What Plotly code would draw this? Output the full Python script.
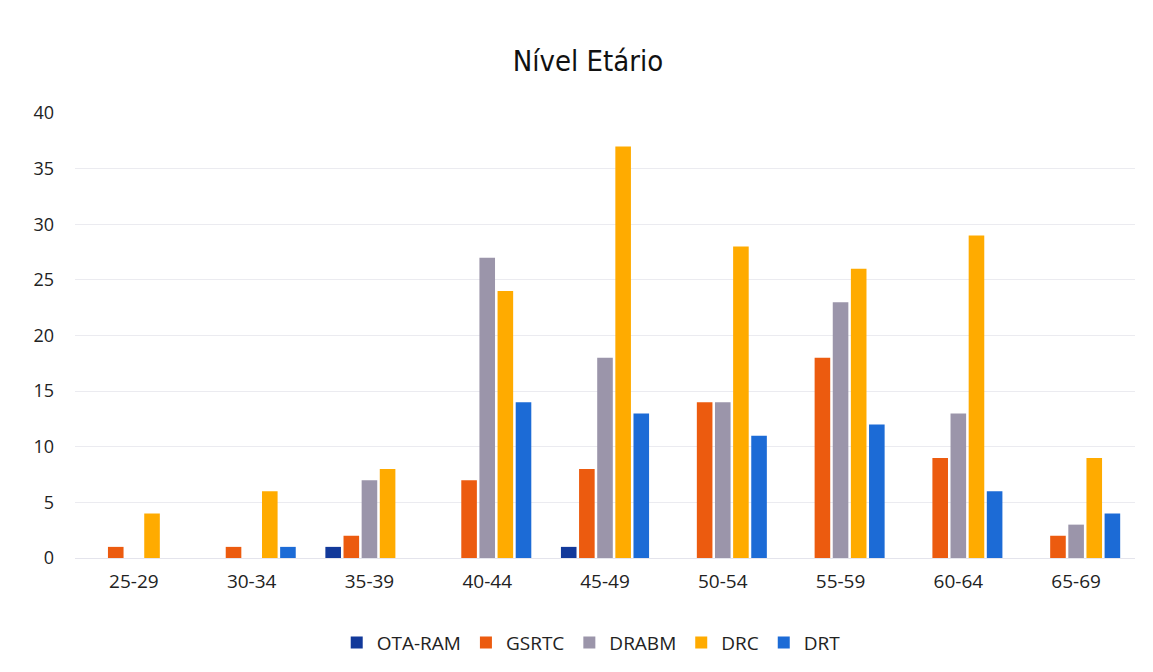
import plotly.graph_objects as go

# Age bands (Nível Etário) and counts per service
age_bands = ["25-29", "30-34", "35-39", "40-44", "45-49", "50-54", "55-59", "60-64", "65-69"]
ota_ram = [0, 0, 1, 0, 1, 0, 0, 0, 0]
gsrtc = [1, 1, 2, 7, 8, 14, 18, 9, 2]
drabm = [0, 0, 7, 27, 18, 14, 23, 13, 3]
drc = [4, 6, 8, 24, 37, 28, 26, 29, 9]
drt = [0, 1, 0, 14, 13, 11, 12, 6, 4]

series = [
    ("OTA-RAM", ota_ram, "#12399A"),
    ("GSRTC", gsrtc, "#EC5B0F"),
    ("DRABM", drabm, "#9B95AA"),
    ("DRC", drc, "#FFAB00"),
    ("DRT", drt, "#1C6BD6"),
]

fig = go.Figure()
for name, vals, color in series:
    fig.add_trace(go.Bar(
        name=name, x=age_bands, y=vals,
        marker=dict(color=color, line=dict(width=0)),
    ))

fig.update_layout(
    width=1153, height=672,
    paper_bgcolor="white", plot_bgcolor="white",
    margin=dict(l=75, r=18, t=113, b=114, autoexpand=False),
    barmode="group", bargap=0.23, bargroupgap=0.14,
    title=dict(
        text="Nível Etário",
        x=0.51, xanchor="center", y=0.91, yanchor="middle",
        font=dict(family="DejaVu Sans", size=29, color="#111111"),
    ),
    font=dict(family="Open Sans, Noto Sans, sans-serif", size=19, color="#222222"),
    xaxis=dict(showgrid=False, showline=True, linecolor="#E4E4EC", linewidth=1,
               ticks="", tickfont=dict(size=19), ticklabelstandoff=6),
    yaxis=dict(range=[0, 40], dtick=5, showgrid=True, gridcolor="#EBEBF0",
               gridwidth=1, zeroline=False, showline=False, ticks="",
               tickfont=dict(size=18), ticklabelstandoff=20),
    legend=dict(orientation="h", x=0.487, xanchor="center", y=-0.19, yanchor="middle",
                font=dict(size=19), itemwidth=30, traceorder="normal"),
    showlegend=True,
)

# Narrow title face: ask the browser for the condensed width of the family
condense_title = """
document.querySelectorAll('.gtitle').forEach(function (t) {
    t.style.fontStretch = 'condensed';
});
"""

fig.write_html("out.html", post_script=condense_title)
